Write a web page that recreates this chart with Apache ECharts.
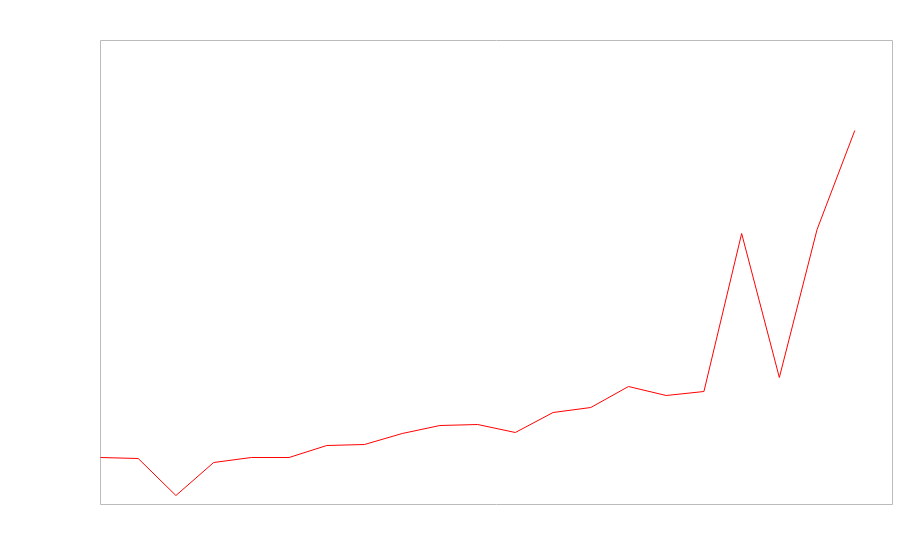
<!DOCTYPE html>
<html>
<head>
<meta charset="utf-8">
<script src="https://cdn.jsdelivr.net/npm/echarts@6/dist/echarts.min.js"></script>
<style>
  html, body { margin: 0; padding: 0; background: #fff; }
  #chart { width: 900px; height: 560px; }
</style>
</head>
<body>
<div id="chart"></div>
<script>
// categories: 22 slots, the last one left empty
const categories = []
for (let i = 0; i < 22; i++) categories.push(String(i))

// series values
const values = [47, 46, 9, 42, 47, 47, 59, 60, 71, 79, 80, 72, 92, 97, 118, 109, 113, 271, 127, 275, 374]

const yMin = 0
const yMax = 464

const chart = echarts.init(document.getElementById('chart'), null, { renderer: 'canvas' })
chart.setOption({
  animation: false,
  grid: {
    show: true,
    left: 100.5,
    right: 7.5,
    top: 40.5,
    bottom: 55.5,
    borderColor: '#bbb',
    borderWidth: 1,
    backgroundColor: 'transparent'
  },
  xAxis: {
    type: 'category',
    data: categories,
    boundaryGap: false,
    axisLine: { show: false },
    axisTick: { show: false },
    axisLabel: { show: false },
    splitLine: { show: false }
  },
  yAxis: {
    type: 'value',
    min: yMin,
    max: yMax,
    axisLine: { show: false },
    axisTick: { show: false },
    axisLabel: { show: false },
    splitLine: { show: false }
  },
  series: [{
    type: 'line',
    data: values,
    showSymbol: false,
    symbol: 'none',
    lineStyle: { color: '#ff0000', width: 1 },
    itemStyle: { color: '#ff0000' }
  }]
})
</script>
</body>
</html>
